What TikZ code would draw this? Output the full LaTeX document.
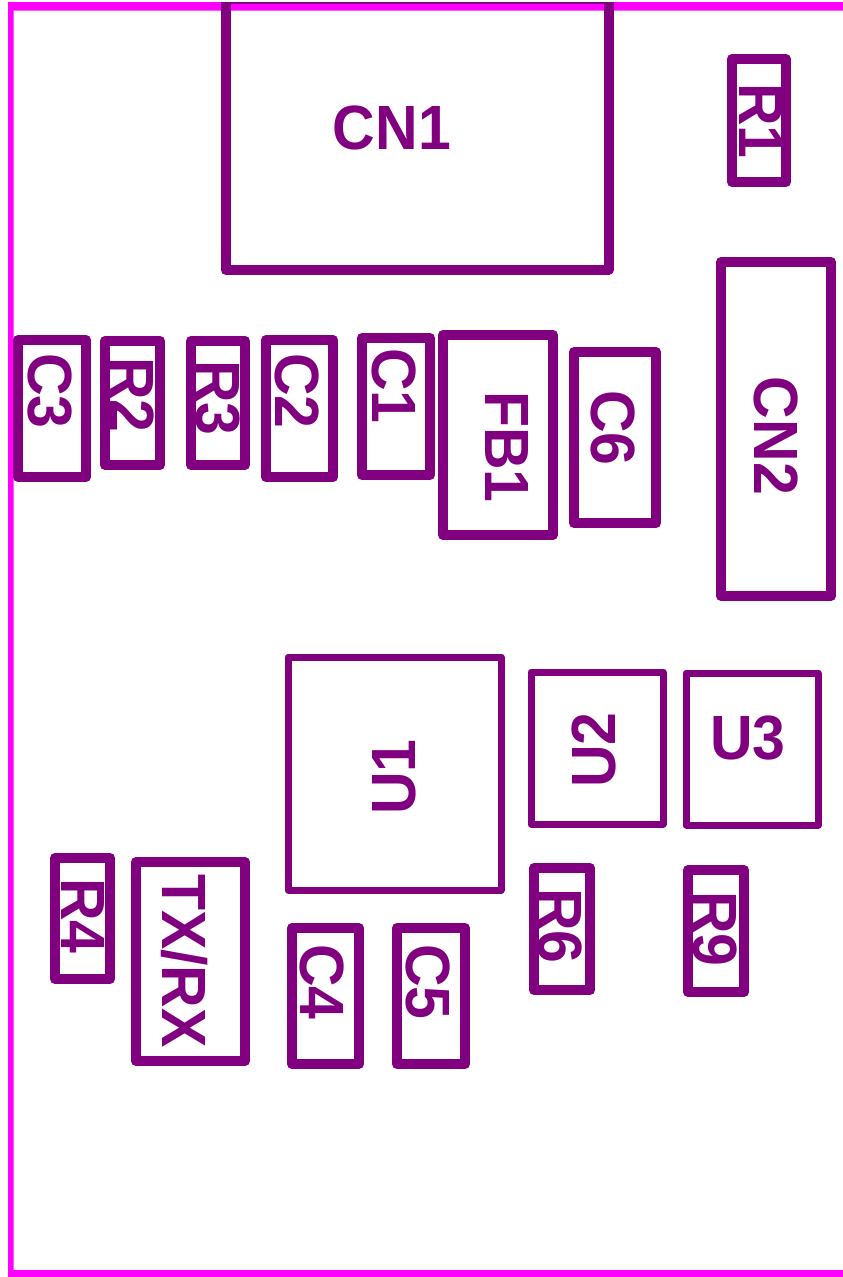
\documentclass[tikz,border=0pt]{standalone}
\usepackage{fontspec}
\setmainfont{Liberation Sans}
\definecolor{silk}{RGB}{128,0,128}
\definecolor{edgecut}{RGB}{255,0,255}
\newcommand{\tallbox}[1]{\scalebox{1}[1.06]{#1}}
\tikzset{
  x=1pt,y=-1pt,
  part/.style={draw=silk,line join=round,line width=#1},
  part/.default=10pt,
  reftext/.style={text=silk,inner sep=0pt,font=\fontsize{59}{59}\selectfont\bfseries},
}
\newcommand{\comp}[9]{%
  \draw[part=#6] (#2,#3) rectangle (#4,#5);
  \node[reftext,rotate=#9] (#1) at (#7,#8) {\tallbox{#1}};}
\begin{document}
\begin{tikzpicture}
\useasboundingbox (0,0) rectangle (843,1277);
\fill[white] (0,0) rectangle (843,1277);
\fill[edgecut] (843,2) -- (8,2) -- (8,1277) -- (843,1277) -- (843,1270) -- (13.5,1270) -- (13.5,10.5) -- (843,10.5) -- cycle;
\draw[silk,line width=2pt] (226,3) -- (608.5,3);
\draw[part=10pt,line cap=butt] (226,2) -- (226,270) -- (608.5,270) -- (608.5,2);
\node[reftext] (CN1) at (392,128) {\tallbox{CN1}};
\comp{R1}{732}{59}{786}{182}{10pt}{761}{121}{-90}
\comp{CN2}{721}{262}{831}{596}{10pt}{776}{436}{-90}
\comp{C3}{18}{340}{86}{477}{10pt}{50}{391}{-90}
\comp{R2}{105}{341}{160}{465}{10pt}{132}{395}{-90}
\comp{R3}{191}{341}{245}{465}{10pt}{218}{398}{-90}
\comp{C2}{266}{340}{333}{477}{10pt}{297}{391}{-90}
\comp{C1}{362}{338}{430}{475}{10pt}{394}{386}{-90}
\comp{FB1}{443}{335}{553}{535}{10pt}{507}{447}{-90}
\comp{C6}{574}{352}{656}{523}{10pt}{613}{428}{-90}
\comp{U1}{288}{657}{501}{890}{7pt}{394}{777}{90}
\comp{U2}{531}{672}{663}{824}{7pt}{594}{750}{90}
\comp{U3}{686}{673}{818}{825}{7pt}{748}{738}{0}
\comp{R6}{534}{868}{590}{990}{10pt}{560}{926}{-90}
\comp{R9}{688}{870}{744}{992}{10pt}{715}{929}{-90}
\comp{R4}{55}{858}{110}{979}{10pt}{83}{916}{-90}
\comp{TX/RX}{136}{862}{245}{1061}{10pt}{185}{961}{-90}
\comp{C4}{292}{928}{359}{1064}{10pt}{322}{982}{-90}
\comp{C5}{397}{928}{465}{1064}{10pt}{428}{982}{-90}
\end{tikzpicture}
\end{document}
